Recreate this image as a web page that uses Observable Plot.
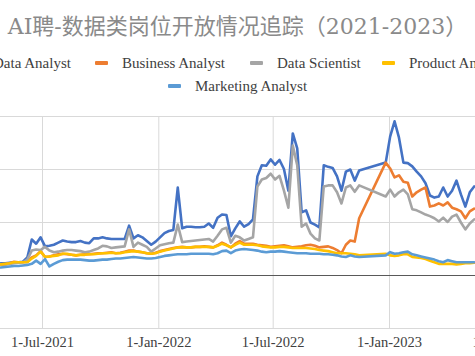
<!DOCTYPE html>
<html>
<head>
<meta charset="utf-8">
<script src="https://cdn.jsdelivr.net/npm/d3@7"></script>
<script src="https://cdn.jsdelivr.net/npm/@observablehq/plot@0.6"></script>
<style>
  html, body { margin: 0; padding: 0; background: #fff; }
  #wrap { position: relative; width: 475px; height: 356px; overflow: hidden; background: #fff; }
  #title { position: absolute; left: 0; top: 13px; width: 475px; text-align: center; white-space: nowrap;
           font-family: "DejaVu Serif", "Noto Sans CJK SC", serif; font-size: 22px; line-height: 28px; color: #8a8a8a; }
  .leg { position: absolute; display: flex; align-items: center; white-space: nowrap; height: 16px;
         font-family: "Liberation Serif", serif; font-size: 15px; color: #404040; }
  .sw { width: 13px; height: 4px; border-radius: 1px; margin-right: 14px; flex: none; }
  #chart { position: absolute; left: 0; top: 100px; }
</style>
</head>
<body>
<div id="wrap">
  <div id="title">AI聘-数据类岗位开放情况追踪（2021-2023）</div>
  <div id="legend"></div>
  <div id="chart"></div>
</div>
<script>
const dates = [
  "2021-04-26","2021-05-03","2021-05-10","2021-05-17","2021-05-24","2021-05-31","2021-06-07","2021-06-14","2021-06-21","2021-06-28",
  "2021-07-05","2021-07-12","2021-07-19","2021-07-26","2021-08-02","2021-08-09","2021-08-16","2021-08-23","2021-08-30","2021-09-06",
  "2021-09-13","2021-09-20","2021-09-27","2021-10-04","2021-10-11","2021-10-18","2021-10-25","2021-11-01","2021-11-08","2021-11-15",
  "2021-11-22","2021-11-29","2021-12-06","2021-12-13","2021-12-20","2021-12-27","2022-01-03","2022-01-10","2022-01-17","2022-01-24",
  "2022-01-31","2022-02-07","2022-02-14","2022-02-21","2022-02-28","2022-03-07","2022-03-14","2022-03-21","2022-03-28","2022-04-04",
  "2022-04-11","2022-04-18","2022-04-25","2022-05-02","2022-05-09","2022-05-16","2022-05-23","2022-05-30","2022-06-06","2022-06-13",
  "2022-06-20","2022-06-27","2022-07-04","2022-07-11","2022-07-18","2022-07-25","2022-08-01","2022-08-08","2022-08-15","2022-08-22",
  "2022-08-29","2022-09-05","2022-09-12","2022-09-19","2022-09-26","2022-10-03","2022-10-10","2022-10-17","2022-10-24","2022-10-31",
  "2022-11-07","2022-11-14","2022-12-26","2023-01-02","2023-01-09","2023-01-16","2023-01-23","2023-01-30","2023-02-06","2023-02-13",
  "2023-02-20","2023-02-27","2023-03-06","2023-03-13","2023-03-20","2023-03-27","2023-04-03","2023-04-10","2023-04-17","2023-04-24",
  "2023-05-01","2023-05-08","2023-05-15"
];

const dataAnalyst = [
  23,23,24,25,25,26,34,68,60,72,
  55,56,58,62,66,64,63,63,65,62,
  61,70,70,72,70,69,69,69,69,94,
  70,76,72,65,58,64,72,80,84,86,
  166,89,92,92,91,91,92,98,90,109,
  115,114,74,89,102,92,97,106,187,208,
  207,219,209,218,201,160,268,240,119,123,
  100,96,91,208,205,203,187,160,196,200,
  179,198,213,262,291,260,213,212,206,196,
  187,174,151,147,149,166,149,160,179,153,
  130,157,168
];
const businessAnalyst = [
  20,21,23,26,25,25,26,34,38,46,
  35,36,38,40,41,40,39,38,39,40,
  40,41,42,42,43,44,42,43,45,47,
  47,45,44,42,41,43,46,48,50,52,
  53,54,53,53,54,54,55,54,53,57,
  62,58,53,60,65,60,60,60,58,57,
  56,54,55,56,57,55,53,54,55,57,
  58,56,53,54,55,52,48,42,58,66,
  64,108,213,202,185,189,177,175,149,157,
  162,166,130,132,136,132,138,128,125,121,
  108,121,126
];
const dataScientist = [
  21,21,22,23,24,25,30,47,49,48,
  54,47,44,45,47,48,48,47,46,44,
  45,48,51,56,55,52,53,54,55,87,
  54,62,58,54,45,51,57,59,61,62,
  96,63,64,65,66,67,68,69,64,75,
  87,90,62,75,72,66,69,72,168,181,
  184,192,181,188,160,128,245,208,92,98,
  79,70,66,168,170,170,157,136,166,170,
  158,170,149,162,149,157,162,153,125,123,
  119,115,112,108,102,109,101,111,115,100,
  87,98,106
];
const productAnalyst = [
  21,22,23,25,25,25,25,32,37,45,
  35,36,37,38,41,41,39,38,39,39,
  40,40,41,42,42,43,42,42,44,45,
  46,45,44,42,41,42,45,47,49,51,
  53,53,53,53,54,54,54,54,53,56,
  60,57,53,58,62,58,58,58,57,55,
  54,53,53,54,54,53,52,52,52,52,
  51,50,48,47,46,44,42,42,42,41,
  40,38,41,38,37,38,40,40,35,34,
  33,31,28,25,22,22,22,22,21,22,
  23,23,24
];
const marketingAnalyst = [
  15,16,17,18,18,19,20,22,28,22,
  31,17,22,26,29,30,30,30,30,29,
  28,28,29,30,30,31,32,32,33,34,
  35,34,33,32,32,33,35,37,38,39,
  40,40,40,41,41,41,41,41,40,42,
  46,47,42,47,49,50,49,48,47,45,
  44,45,45,46,45,44,43,42,42,42,
  41,41,41,40,40,39,38,36,35,38,
  36,35,38,44,41,42,44,45,40,38,
  36,34,32,30,27,25,29,27,25,25,
  25,25,25
];

const seriesNames = ["Data Analyst","Business Analyst","Data Scientist","Product Analyst","Marketing Analyst"];
const seriesColors = ["#4472C4","#ED7D31","#A5A5A5","#FFC000","#5B9BD5"];
const xTicks = ["2021-07-01","2022-01-01","2022-07-01","2023-01-01","2023-07-01"];
const yTicks = [-100, 0, 100, 200, 300];

const parse = d3.utcParse("%Y-%m-%d");
const seriesValues = [dataAnalyst, businessAnalyst, dataScientist, productAnalyst, marketingAnalyst];
const rows = [];
seriesNames.forEach((name, i) => {
  seriesValues[i].forEach((v, j) => rows.push({date: parse(dates[j]), value: v, series: name}));
});
const tickDates = xTicks.map(parse);
const fmt = d3.utcFormat("%-d-%b-%Y");

// legend (layout positions only)
const legendPos = [[-34, 55], [95, 55], [250, 55], [382, 55], [168, 78]];
const legend = document.getElementById("legend");
seriesNames.forEach((name, i) => {
  const item = document.createElement("div");
  item.className = "leg";
  item.style.left = legendPos[i][0] + "px";
  item.style.top = legendPos[i][1] + "px";
  const sw = document.createElement("span");
  sw.className = "sw";
  sw.style.background = seriesColors[i];
  const tx = document.createElement("span");
  tx.textContent = name;
  item.appendChild(sw);
  item.appendChild(tx);
  legend.appendChild(item);
});

const chart = Plot.plot({
  width: 475,
  height: 256,
  marginTop: 16,
  marginBottom: 28,
  marginLeft: 0,
  marginRight: 0,
  style: {background: "transparent"},
  x: {type: "utc", domain: [parse("2021-07-01"), parse("2023-01-01")], range: [42, 389], axis: null},
  y: {domain: [-100, 300], axis: null},
  color: {domain: seriesNames, range: seriesColors},
  marks: [
    Plot.ruleY(yTicks.filter(d => d !== 0), {stroke: "#d9d9d9", strokeWidth: 1}),
    Plot.ruleX(tickDates, {stroke: "#d9d9d9", strokeWidth: 1}),
    Plot.ruleY([0], {stroke: "#595959", strokeWidth: 1}),
    Plot.line(rows, {x: "date", y: "value", z: "series", stroke: "series", strokeWidth: 2.6, strokeLinejoin: "round", strokeLinecap: "round", clip: true}),
    Plot.text(tickDates, {x: d => d, text: d => fmt(d), frameAnchor: "bottom", dy: 18, fontSize: 14.5, fontFamily: "Liberation Serif", fill: "#404040", textAnchor: "middle"})
  ]
});
document.getElementById("chart").appendChild(chart);
</script>
</body>
</html>
